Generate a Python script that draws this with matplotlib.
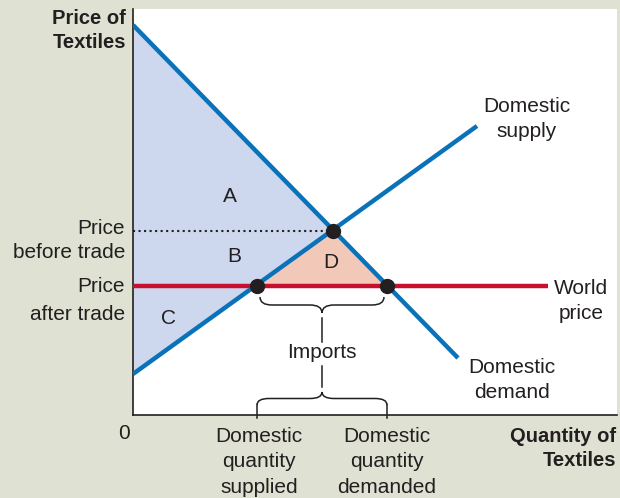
import matplotlib.pyplot as plt
from matplotlib.path import Path
from matplotlib.patches import PathPatch, Polygon

plt.rcParams['font.family'] = ['Liberation Sans', 'DejaVu Sans']

# Curves (quantity, price), arbitrary units
demand_q = [0, 325]
demand_p = [390, 57]
supply_q = [0, 344]
supply_p = [41, 289]

world_price = 129
world_q_end = 415
price_before = 184
eq_q = 200
qs_after = 124
qd_after = 254

bg = '#dfe1d3'
blue = '#0a72b8'
red = '#c8102e'
txt = '#231f20'

fig = plt.figure(figsize=(6.2, 4.98), dpi=100, facecolor=bg)
ax = fig.add_axes([133/620, 83/498, 484/620, 406/498])
ax.set_facecolor('white')
ax.set_xlim(0, 484)
ax.set_ylim(0, 406)
ax.set_xticks([])
ax.set_yticks([])
for s in ['top', 'right']:
    ax.spines[s].set_visible(False)
for s in ['left', 'bottom']:
    ax.spines[s].set_color('#231f20')
    ax.spines[s].set_linewidth(1.2)

# shaded areas
ax.add_patch(Polygon([(0, demand_p[0]), (eq_q, price_before), (0, supply_p[0])],
                     closed=True, facecolor='#cdd7ee', edgecolor='none', zorder=1))
ax.add_patch(Polygon([(qs_after, world_price), (eq_q, price_before), (qd_after, world_price)],
                     closed=True, facecolor='#f2c9b9', edgecolor='none', zorder=1))

ax.plot([0, eq_q], [price_before, price_before], ':', color='#231f20', lw=1.5, zorder=2)
ax.plot([0, world_q_end], [world_price, world_price], color=red, lw=3.2,
        solid_capstyle='butt', zorder=3)
ax.plot(demand_q, demand_p, color=blue, lw=3.2, solid_capstyle='butt', zorder=4)
ax.plot(supply_q, supply_p, color=blue, lw=3.2, solid_capstyle='butt', zorder=4)
ax.plot([qs_after, qd_after, eq_q], [world_price, world_price, price_before], 'o',
        color='#231f20', ms=10, zorder=5, clip_on=False)


def brace(x0, x1, y0, h, d):
    xm = (x0 + x1) / 2
    r = 12
    ym = y0 + d * h / 2
    yt = y0 + d * h
    verts = [(x0, y0), (x0, ym), (x0 + r, ym),
             (xm - r, ym),
             (xm, ym), (xm, yt),
             (xm, ym), (xm + r, ym),
             (x1 - r, ym),
             (x1, ym), (x1, y0)]
    codes = [Path.MOVETO, Path.CURVE3, Path.CURVE3,
             Path.LINETO,
             Path.CURVE3, Path.CURVE3,
             Path.CURVE3, Path.CURVE3,
             Path.LINETO,
             Path.CURVE3, Path.CURVE3]
    ax.add_patch(PathPatch(Path(verts, codes), facecolor='none', edgecolor=txt,
                           lw=1.1, clip_on=False, zorder=6))


brace(qs_after + 3, qd_after - 3, 118, 16, -1)
brace(qs_after, qd_after, 10, 13, 1)
ax.plot([qs_after, qs_after], [10, -3], color=txt, lw=1.1, clip_on=False)
ax.plot([qd_after, qd_after], [10, -3], color=txt, lw=1.1, clip_on=False)
mid = (qs_after + qd_after) / 2
ax.plot([mid, mid], [97, 73], color=txt, lw=1.1)
ax.plot([mid, mid], [49, 28], color=txt, lw=1.1)

fs = 15
kw = dict(fontsize=fs, color=txt, clip_on=False)
bold = dict(fontsize=14.5, fontweight='bold', color=txt, linespacing=1.35, clip_on=False)
ax.text(mid, 63, 'Imports', ha='center', va='center', **kw)

ax.text(-7, 406, 'Price of\nTextiles', ha='right', va='top', **bold)
ax.text(-8, 187, 'Price', ha='right', va='center', **kw)
ax.text(-8, 163, 'before trade', ha='right', va='center', **kw)
ax.text(-8, 128, 'Price', ha='right', va='center', **kw)
ax.text(-8, 100, 'after trade', ha='right', va='center', **kw)
ax.text(-9, -18, '0', ha='center', va='center', **kw)

ax.text(97, 219, 'A', ha='center', va='center', **kw)
ax.text(101, 158, 'B', ha='center', va='center', **kw)
ax.text(36, 96, 'C', ha='center', va='center', **kw)
ax.text(198, 152, 'D', ha='center', va='center', **kw)

ax.text(394, 296, 'Domestic\nsupply', ha='center', va='center', linespacing=1.35, **kw)
ax.text(448, 114, 'World\nprice', ha='center', va='center', linespacing=1.35, **kw)
ax.text(379, 35, 'Domestic\ndemand', ha='center', va='center', linespacing=1.35, **kw)
ax.text(483, -12, 'Quantity of\nTextiles', ha='right', va='top', **bold)
ax.text(qs_after + 2, -12, 'Domestic\nquantity\nsupplied', ha='center', va='top',
        linespacing=1.42, **kw)
ax.text(qd_after, -12, 'Domestic\nquantity\ndemanded', ha='center', va='top',
        linespacing=1.42, **kw)

plt.savefig('out.png', dpi=100, facecolor=bg)
